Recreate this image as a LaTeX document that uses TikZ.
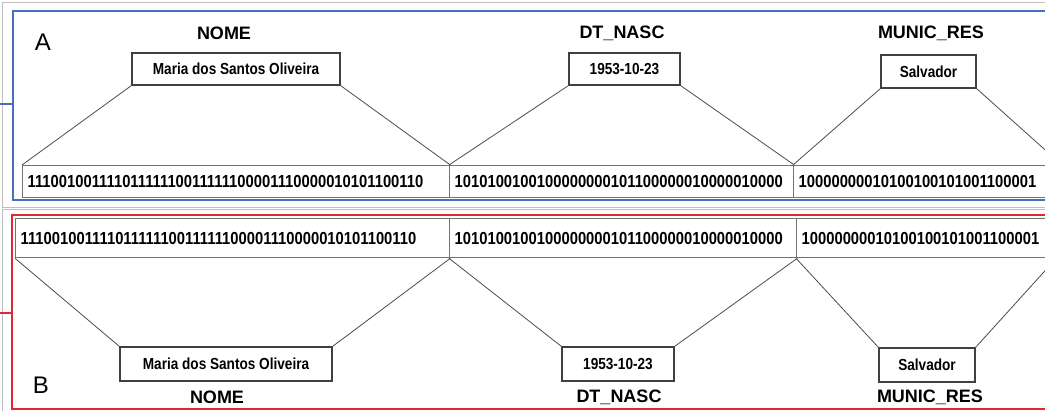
\documentclass[tikz,border=0pt]{standalone}
\usepackage{fontspec}
\setmainfont{Liberation Sans}
\newfontfamily\condfont[FakeStretch=0.85]{Liberation Sans}
\definecolor{frameblue}{RGB}{70,112,190}
\definecolor{framered}{RGB}{222,40,52}
\tikzset{
  field/.style={font=\bfseries\fontsize{18}{20}\selectfont},
  valbox/.style={draw=black!75,line width=1.1pt,fill=white,inner sep=0pt,
    font=\condfont\bfseries\fontsize{16}{18}\selectfont},
  bitcell/.style={draw=black!55,line width=1.3pt,fill=white,anchor=north west,
    inner xsep=5pt,inner ysep=0pt,minimum height=32pt,align=left,
    font=\condfont\bfseries\fontsize{17.4}{19}\selectfont},
  link/.style={black!70,line width=0.8pt},
}
\begin{document}
\begin{tikzpicture}[x=1pt,y=-1pt]
\useasboundingbox (0,0) rectangle (1045,411);
\clip (0,0) rectangle (1045,411);

% Draw the outer frames
\draw[black!25,line width=0.8pt] (2,2) rectangle (1060,207);
\draw[black!25,line width=0.8pt] (2,209) rectangle (1060,420);
\draw[frameblue,line width=1.6pt] (13,11) rectangle (1060,200);
\draw[frameblue,line width=1.6pt] (0,104) -- (13,104);
\draw[framered,line width=1.6pt] (12,215) rectangle (1060,409);
\draw[framered,line width=1.6pt] (0,313) -- (12,313);

% Panel A: field names
\node at (43,42) {\fontsize{24}{26}\selectfont A};
\node[field] (nomeA) at (224,33) {NOME};
\node[field] (dtA) at (622,33) {DT\_NASC};
\node[field] (munA) at (931,33) {MUNIC\_RES};

% Panel A: values
\node[valbox,minimum width=208pt,minimum height=32pt] (mariaA) at (236,69) {Maria dos Santos Oliveira};
\node[valbox,minimum width=111pt,minimum height=32pt] (dataA) at (624.5,69) {1953-10-23};
\node[valbox,minimum width=95pt,minimum height=33pt] (salvA) at (928.5,71.5) {Salvador};

% Panel A: bit strip
\node[bitcell,text width=417pt] (bitsA1) at (22,165) {11100100111101111110011111100001110000010101100110};
\node[bitcell,text width=334pt] (bitsA2) at (449,165) {1010100100100000000101100000010000010000};
\node[bitcell,text width=400pt] (bitsA3) at (793,165) {10000000010100100101001100001};
\coordinate (nextA) at (1062,165);

% Panel A: links
\draw[link] (mariaA.south west) -- (bitsA1.north west);
\draw[link] (mariaA.south east) -- (bitsA1.north east);
\draw[link] (dataA.south west) -- (bitsA2.north west);
\draw[link] (dataA.south east) -- (bitsA2.north east);
\draw[link] (salvA.south west) -- (bitsA3.north west);
\draw[link] (salvA.south east) -- (nextA);

% Panel B: bit strip
\node[bitcell,text width=424pt,minimum height=39pt] (bitsB1) at (15,218) {11100100111101111110011111100001110000010101100110};
\node[bitcell,text width=337pt,minimum height=39pt] (bitsB2) at (449,218) {1010100100100000000101100000010000010000};
\node[bitcell,text width=400pt,minimum height=39pt] (bitsB3) at (796,218) {10000000010100100101001100001};
\coordinate (nextB) at (1062,252);

% Panel B: values
\node[valbox,minimum width=212pt,minimum height=34pt] (mariaB) at (226,364) {Maria dos Santos Oliveira};
\node[valbox,minimum width=112pt,minimum height=34pt] (dataB) at (618,364) {1953-10-23};
\node[valbox,minimum width=96pt,minimum height=34pt] (salvB) at (927,365) {Salvador};

% Panel B: links
\draw[link] (bitsB1.south west) -- (mariaB.north west);
\draw[link] (bitsB1.south east) -- (mariaB.north east);
\draw[link] (bitsB2.south west) -- (dataB.north west);
\draw[link] (bitsB2.south east) -- (dataB.north east);
\draw[link] (bitsB3.south west) -- (salvB.north west);
\draw[link] (nextB) -- (salvB.north east);

% Panel B: field names
\node at (41,385) {\fontsize{24}{26}\selectfont B};
\node[field] (nomeB) at (217,397) {NOME};
\node[field] (dtB) at (619,397) {DT\_NASC};
\node[field] (munB) at (930,397) {MUNIC\_RES};

\end{tikzpicture}
\end{document}
